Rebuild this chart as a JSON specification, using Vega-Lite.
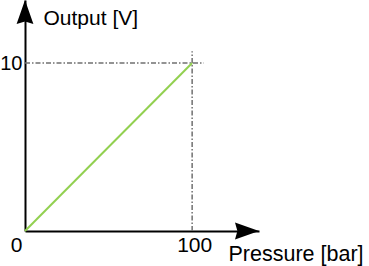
{
  "$schema": "https://vega.github.io/schema/vega-lite/v6.json",
  "width": 234,
  "height": 231,
  "autosize": {"type": "none"},
  "padding": {"left": 25, "top": 0, "right": 110, "bottom": 35},
  "background": "white",
  "config": {
    "view": {"stroke": null},
    "font": "Liberation Sans"
  },
  "datasets": {
    "curve": [
      {"pressure": 0, "output": 0},
      {"pressure": 100, "output": 10}
    ],
    "guides": [
      {"pressure": 0, "pressure2": 107, "output": 10, "output2": 10},
      {"pressure": 100, "pressure2": 100, "output": 0, "output2": 10.7}
    ],
    "xarrow": [{"pressure": 140, "output": 0}],
    "yarrow": [{"pressure": 0, "output": 13.75}]
  },
  "encoding": {
    "x": {
      "field": "pressure", "type": "quantitative",
      "scale": {"domain": [0, 140], "nice": false, "zero": false},
      "axis": {
        "values": [0, 100],
        "grid": false, "ticks": false, "tickSize": 0,
        "domainColor": "black", "domainWidth": 2,
        "labelFontSize": 21, "labelColor": "black", "labelFont": "Liberation Sans",
        "labelFlush": false, "labelBaseline": "alphabetic", "labelPadding": 20,
        "labelOffset": {"condition": {"test": "datum.value == 0", "value": -9}, "value": 2},
        "title": "Pressure [bar]", "titleFontSize": 21.5, "titleFontWeight": "normal", "titleColor": "black",
        "titleFont": "Liberation Sans", "titleAngle": 0, "titleAlign": "left", "titleBaseline": "alphabetic",
        "titleX": 203, "titleY": 29
      }
    },
    "y": {
      "field": "output", "type": "quantitative",
      "scale": {"domain": [0, 13.75], "nice": false, "zero": false},
      "axis": {
        "values": [10],
        "grid": false, "ticks": false, "tickSize": 0,
        "domainColor": "black", "domainWidth": 2,
        "labelFontSize": 20, "labelColor": "black", "labelFont": "Liberation Sans",
        "labelFlush": false, "labelBaseline": "middle", "labelPadding": 3,
        "title": "Output [V]", "titleFontSize": 21, "titleFontWeight": "normal", "titleColor": "black",
        "titleFont": "Liberation Sans", "titleAngle": 0, "titleAlign": "left", "titleBaseline": "alphabetic",
        "titleX": 18, "titleY": 24
      }
    }
  },
  "layer": [
    {
      "data": {"name": "guides"},
      "mark": {"type": "rule", "color": "#707070", "strokeWidth": 1.5, "strokeDash": [5, 2, 1.5, 2]},
      "encoding": {
        "x2": {"field": "pressure2"},
        "y2": {"field": "output2"}
      }
    },
    {
      "data": {"name": "curve"},
      "mark": {"type": "line", "color": "#92d050", "strokeWidth": 2}
    },
    {
      "data": {"name": "xarrow"},
      "mark": {"type": "point", "filled": true, "color": "black", "opacity": 1, "size": 2304,
               "shape": "M0,0 L-1,-0.35 L-0.9,0 L-1,0.35 Z"}
    },
    {
      "data": {"name": "yarrow"},
      "mark": {"type": "point", "filled": true, "color": "black", "opacity": 1, "size": 2304,
               "shape": "M0,0 L-0.35,1 L0,0.9 L0.35,1 Z"}
    }
  ]
}
